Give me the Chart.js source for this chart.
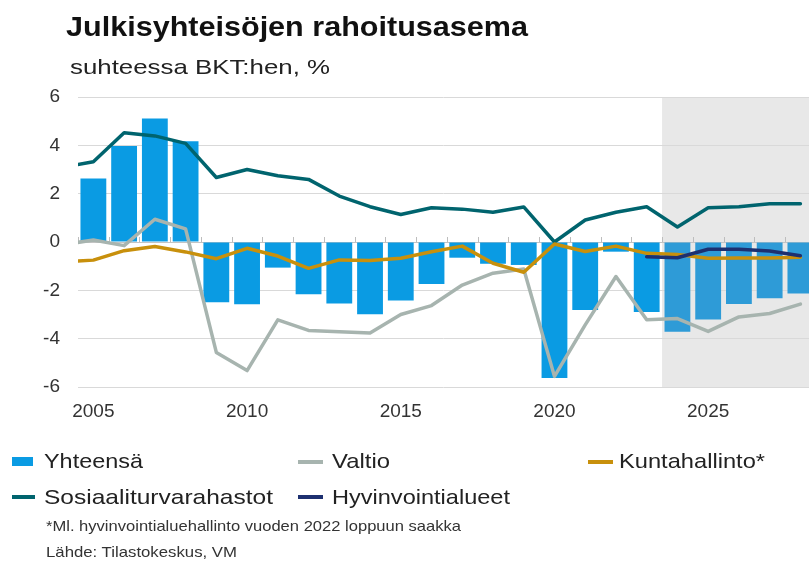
<!DOCTYPE html>
<html lang="fi">
<head>
<meta charset="utf-8">
<title>Julkisyhteisöjen rahoitusasema</title>
<script src="https://cdn.jsdelivr.net/npm/chart.js@4.4.1/dist/chart.umd.min.js"></script>
<style>
  html, body { margin: 0; padding: 0; background: #fff; overflow: hidden; }
  #wrap { position: relative; width: 809px; height: 562px; font-family: 'Liberation Sans', Arial, sans-serif; color: #222; }
  #wrap canvas { position: absolute; left: 0; top: 0; }
  .txt { position: absolute; white-space: nowrap; line-height: 1; transform-origin: 0 0; }
  .title { left: 66px; top: 14px; font-size: 27px; font-weight: bold; color: #111; }
  .sub { left: 70px; top: 56px; font-size: 21px; }
  .leg { font-size: 21px; }
  .note { font-size: 15px; color: #333; }
  .mark { position: absolute; }
</style>
</head>
<body>
<div id="wrap">
  <canvas id="fiscal-chart" width="809" height="562"></canvas>

  <div class="txt title" data-w="462">Julkisyhteisöjen rahoitusasema</div>
  <div class="txt sub" data-w="260">suhteessa BKT:hen, %</div>

  <div class="mark" style="left:12px;top:457px;width:21px;height:9px;background:#0a9be3"></div>
  <div class="txt leg" style="left:44px;top:450px" data-w="99">Yhteensä</div>
  <div class="mark" style="left:298px;top:460px;width:25px;height:4px;background:#a7b4af"></div>
  <div class="txt leg" style="left:332px;top:450px" data-w="58">Valtio</div>
  <div class="mark" style="left:588px;top:460px;width:25px;height:4px;background:#c8900c"></div>
  <div class="txt leg" style="left:619px;top:450px" data-w="146">Kuntahallinto*</div>
  <div class="mark" style="left:12px;top:495px;width:23px;height:4px;background:#00646e"></div>
  <div class="txt leg" style="left:44px;top:486px" data-w="229">Sosiaaliturvarahastot</div>
  <div class="mark" style="left:298px;top:495px;width:25px;height:4px;background:#1d3070"></div>
  <div class="txt leg" style="left:332px;top:486px" data-w="178">Hyvinvointialueet</div>

  <div class="txt note" style="left:46px;top:518px" data-w="415">*Ml. hyvinvointialuehallinto vuoden 2022 loppuun saakka</div>
  <div class="txt note" style="left:46px;top:544px" data-w="191">Lähde: Tilastokeskus, VM</div>
</div>

<script>
// vuodet 2004-2028 (2004 vain viivojen alkupää, leikkautuu kuvan reunaan)
const years = [2004, 2005, 2006, 2007, 2008, 2009, 2010, 2011, 2012, 2013, 2014, 2015, 2016,
  2017, 2018, 2019, 2020, 2021, 2022, 2023, 2024, 2025, 2026, 2027, 2028];
const forecastStart = 2024;
const tickYears = [2005, 2010, 2015, 2020, 2025];
const yTicks = [-6, -4, -2, 0, 2, 4, 6];

const yhteensa = [null, 2.63, 3.97, 5.11, 4.17, -2.49, -2.58, -1.06, -2.16, -2.54, -2.99, -2.42, -1.74,
  -0.65, -0.90, -0.95, -5.63, -2.81, -0.40, -2.90, -3.71, -3.21, -2.57, -2.33, -2.13];
const valtio = [-0.11, 0.08, -0.15, 0.94, 0.54, -4.57, -5.32, -3.22, -3.66, -3.71, -3.77, -3.00, -2.63,
  -1.78, -1.29, -1.12, -5.56, -3.43, -1.43, -3.22, -3.17, -3.70, -3.10, -2.96, -2.57];
const kuntahallinto = [-0.83, -0.75, -0.36, -0.19, -0.41, -0.69, -0.26, -0.58, -1.09, -0.74, -0.77, -0.67, -0.40,
  -0.17, -0.88, -1.25, -0.08, -0.39, -0.17, -0.47, -0.52, -0.67, -0.66, -0.66, -0.63];
const sosiaaliturva = [3.10, 3.32, 4.52, 4.39, 4.08, 2.67, 3.00, 2.74, 2.59, 1.90, 1.46, 1.14, 1.42,
  1.36, 1.23, 1.45, 0.00, 0.91, 1.23, 1.46, 0.62, 1.42, 1.46, 1.58, 1.58];
const hyvinvointialueet = [null, null, null, null, null, null, null, null, null, null, null, null, null,
  null, null, null, null, null, null, -0.61, -0.65, -0.30, -0.30, -0.37, -0.57];

// tekstit venytetään samaan leveyteen kuin mallikuvassa
document.querySelectorAll('.txt[data-w]').forEach(el => {
  const w = el.getBoundingClientRect().width;
  el.style.transform = 'scaleX(' + (el.dataset.w / w) + ')';
});

function points(values) {
  return years.map((yr, i) => ({ x: yr, y: values[i] }));
}

const forecastShade = {
  id: 'forecastShade',
  beforeDraw(chart) {
    const { ctx, chartArea, scales } = chart;
    const x0 = scales.x.getPixelForValue(forecastStart - 0.5);
    ctx.save();
    ctx.fillStyle = '#e8e8e8';
    ctx.fillRect(x0, chartArea.top, chartArea.right - x0, chartArea.bottom - chartArea.top);
    ctx.restore();
  },
  beforeDatasetsDraw(chart) {
    // pienet jakoviivat vuosien välissä nollaviivalla
    const { ctx, chartArea, scales } = chart;
    const y0 = Math.round(scales.y.getPixelForValue(0));
    ctx.save();
    ctx.strokeStyle = '#bdbdbd';
    ctx.lineWidth = 1;
    ctx.beginPath();
    years.forEach(yr => {
      const x = Math.round(scales.x.getPixelForValue(yr + 0.5)) + 0.5;
      if (x < chartArea.left || x > chartArea.right) return;
      ctx.moveTo(x, y0 - 5);
      ctx.lineTo(x, y0);
    });
    ctx.stroke();
    ctx.restore();
  }
};

Chart.defaults.font.family = "'Liberation Sans', Arial, sans-serif";

const lineStyle = {
  type: 'line',
  borderWidth: 3.5,
  pointRadius: 0,
  tension: 0,
  borderJoinStyle: 'round',
  borderCapStyle: 'round',
  spanGaps: false
};

new Chart(document.getElementById('fiscal-chart'), {
  data: {
    datasets: [
      {
        ...lineStyle,
        label: 'Hyvinvointialueet',
        data: points(hyvinvointialueet),
        borderColor: '#1d3070',
        order: 1
      },
      {
        ...lineStyle,
        label: 'Kuntahallinto*',
        data: points(kuntahallinto),
        borderColor: '#c8900c',
        order: 2
      },
      {
        ...lineStyle,
        label: 'Sosiaaliturvarahastot',
        data: points(sosiaaliturva),
        borderColor: '#00646e',
        order: 3
      },
      {
        ...lineStyle,
        label: 'Valtio',
        data: points(valtio),
        borderColor: '#a7b4af',
        order: 4
      },
      {
        type: 'bar',
        label: 'Yhteensä',
        data: points(yhteensa),
        backgroundColor: years.map(yr => (yr >= forecastStart ? '#2e9bd7' : '#0a9be3')),
        categoryPercentage: 0.84,
        barPercentage: 1,
        order: 5
      }
    ]
  },
  options: {
    responsive: false,
    animation: false,
    devicePixelRatio: 1,
    layout: {
      padding: { top: 97, bottom: 135, left: 0, right: 0 }
    },
    scales: {
      x: {
        type: 'linear',
        offset: false,
        min: 2004.5,
        max: 2028.28,
        grid: { display: false, drawTicks: false, offset: false },
        border: { display: false },
        ticks: {
          color: '#333',
          font: { size: 19 },
          padding: 13,
          autoSkip: false,
          maxRotation: 0,
          callback: v => String(v)
        },
        afterBuildTicks(scale) {
          scale.ticks = tickYears.map(v => ({ value: v }));
        },
        afterFit(scale) {
          scale.height = 40;
        }
      },
      y: {
        min: -6,
        max: 6,
        grid: {
          color: ctx => (ctx.tick && ctx.tick.value === 0 ? '#c4c4c4' : '#d9d9d9'),
          drawTicks: false
        },
        border: { display: false },
        ticks: {
          color: '#333',
          font: { size: 19 },
          padding: 18,
          callback: v => String(v)
        },
        afterBuildTicks(scale) {
          scale.ticks = yTicks.map(v => ({ value: v }));
        },
        afterFit(scale) {
          scale.width = 78;
        }
      }
    },
    plugins: {
      legend: { display: false },
      tooltip: { enabled: false },
      title: { display: false }
    }
  },
  plugins: [forecastShade]
});
</script>
</body>
</html>
